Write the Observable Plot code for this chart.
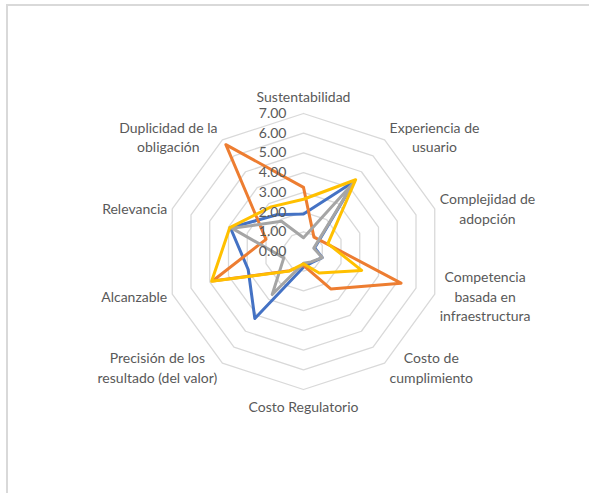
<!DOCTYPE html>
<html>
<head>
<meta charset="utf-8">
<script src="https://cdn.jsdelivr.net/npm/d3@7"></script>
<script src="https://cdn.jsdelivr.net/npm/@observablehq/plot@0.6"></script>
<style>
html, body { margin: 0; padding: 0; background: #fff; overflow: hidden; }
#frame { position: absolute; left: 6px; top: 4px; width: 700px; height: 600px;
  border-left: 2px solid #d9d9d9; border-top: 2px solid #d9d9d9; }
#chart { position: absolute; left: 0; top: 0; }
</style>
</head>
<body>
<div id="frame"></div>
<div id="chart"></div>
<script>
// ---- data ----
const categories = [
  "Sustentabilidad",
  "Experiencia de\nusuario",
  "Complejidad de\nadopción",
  "Competencia\nbasada en\ninfraestructura",
  "Costo de\ncumplimiento",
  "Costo Regulatorio",
  "Precisión de los\nresultado (del valor)",
  "Alcanzable",
  "Relevancia",
  "Duplicidad de la\nobligación"
];
const seriesNames = ["Serie1", "Serie2", "Serie3", "Serie4"];
const serie1 = [1.9, 4.4, 0.6, 1.0, 0.7, 0.8, 4.2, 2.95, 3.9, 2.3];
const serie2 = [3.25, 0.9, 1.25, 5.2, 2.35, 0.7, 1.2, 4.85, 2.0, 6.7];
const serie3 = [0.7, 4.3, 0.55, 1.0, 0.65, 0.6, 2.7, 1.05, 3.8, 1.9];
const serie4 = [2.65, 4.5, 1.3, 3.1, 1.35, 0.62, 1.23, 4.9, 3.93, 2.8];
const seriesColors = ["#4472C4", "#ED7D31", "#A5A5A5", "#FFC000"];
const ringValues = [1, 2, 3, 4, 5, 6, 7];
const tickValues = [0, 1, 2, 3, 4, 5, 6, 7];
const tickLabels = ["0.00", "1.00", "2.00", "3.00", "4.00", "5.00", "6.00", "7.00"];

// ---- layout ----
const W = 589, H = 493;
const CX = 303, CY = 251;          // centre in pixels
const RMAX = 7;
const UNIT = 138 / RMAX;           // pixels per value unit
const FONT = "Lato, 'Open Sans', sans-serif";
const FS = 14, LH = 1.4;
const n = categories.length;
const ang = i => 2 * Math.PI * i / n;

// rings
const ringData = [];
for (const r of ringValues) {
  for (let i = 0; i <= n; i++) {
    const a = ang(i % n);
    ringData.push({ring: r, x: r * Math.sin(a), y: r * Math.cos(a)});
  }
}

// series
const allSeries = [serie1, serie2, serie3, serie4];
const seriesData = [];
allSeries.forEach((vals, s) => {
  for (let i = 0; i <= n; i++) {
    const a = ang(i % n);
    const v = vals[i % n];
    seriesData.push({series: seriesNames[s], x: v * Math.sin(a), y: v * Math.cos(a)});
  }
});

// axis category labels (placed outside the outer ring, lines centred)
const ctx = document.createElement("canvas").getContext("2d");
ctx.font = `${FS}px ${FONT}`;
const gap = 5;
const labelData = categories.map((c, i) => {
  const a = ang(i);
  const s = Math.sin(a), co = Math.cos(a);
  const lines = c.split("\n");
  const w = Math.max(...lines.map(l => ctx.measureText(l).width));
  const h = lines.length * FS * LH;
  let px = RMAX * UNIT * s, py = RMAX * UNIT * co;
  if (Math.abs(s) < 0.1) {
    py += Math.sign(co) * (h / 2 + (co > 0 ? 8 : 6));
  } else {
    px += Math.sign(s) * (gap + w / 2);
    py += co * 4.5;
  }
  return {text: c, x: px / UNIT, y: py / UNIT};
});

const tickData = tickValues.map((v, i) => ({v, label: tickLabels[i]}));

const chart = Plot.plot({
  width: W,
  height: H,
  margin: 0,
  x: {domain: [-CX / UNIT, (W - CX) / UNIT], axis: null},
  y: {domain: [-(H - CY) / UNIT, CY / UNIT], axis: null},
  color: {domain: seriesNames, range: seriesColors},
  style: {fontFamily: FONT, background: "transparent"},
  marks: [
    Plot.line(ringData, {x: "x", y: "y", z: "ring", stroke: "#d9d9d9", strokeWidth: 1.3}),
    Plot.line(seriesData, {x: "x", y: "y", z: "series", stroke: "series",
      strokeWidth: 3, strokeLinejoin: "round", strokeLinecap: "round"}),
    Plot.text(tickData, {x: () => 0, y: "v", text: "label", textAnchor: "end",
      dx: -17, fontSize: FS, fill: "#595959", lineAnchor: "middle"}),
    Plot.text(labelData, {x: "x", y: "y", text: "text", textAnchor: "middle",
      lineAnchor: "middle", lineHeight: LH, fontSize: FS, fill: "#595959"})
  ]
});
document.getElementById("chart").appendChild(chart);
</script>
</body>
</html>
